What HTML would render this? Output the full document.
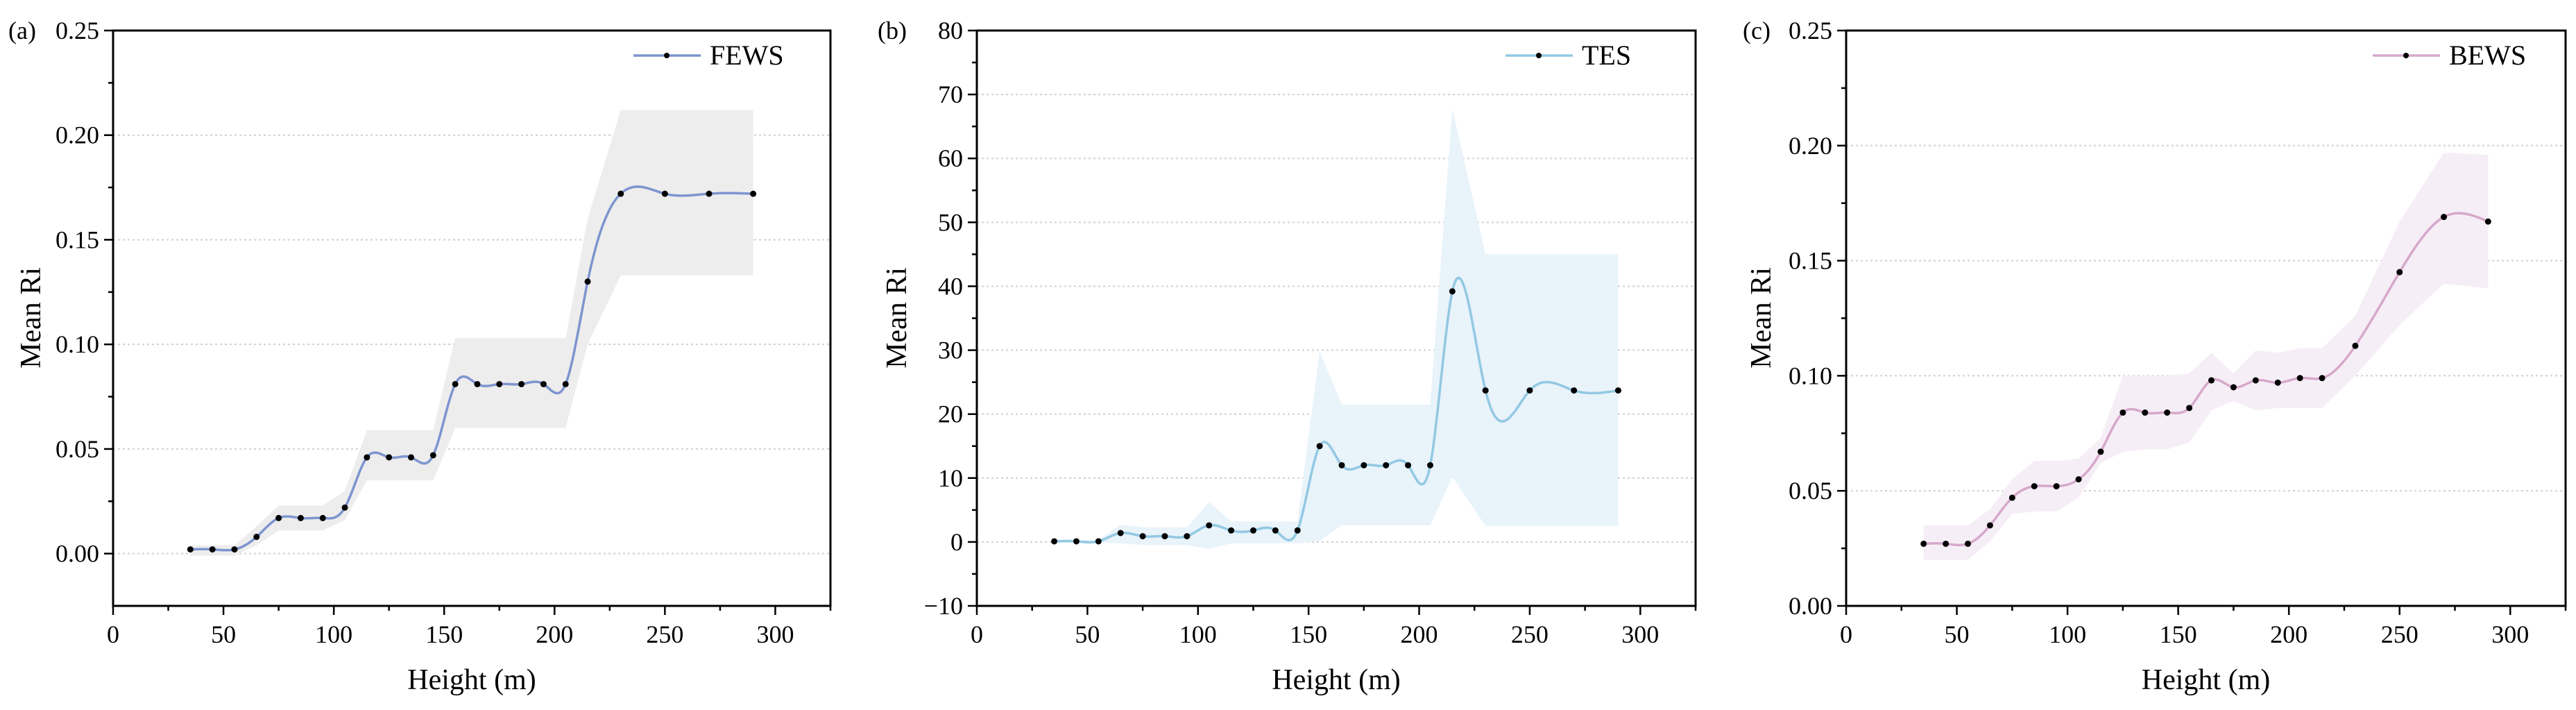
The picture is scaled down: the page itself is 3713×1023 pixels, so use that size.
<!DOCTYPE html>
<html><head><meta charset="utf-8"><style>
html,body{margin:0;padding:0;background:#fff;}
svg{display:block;font-family:"Liberation Serif",serif;}
</style></head><body>
<svg id="fig" width="3713" height="1023" viewBox="0 0 3713 1023" xmlns="http://www.w3.org/2000/svg"></svg>
<script>
const heights = [35,45,55,65,75,85,95,105,115,125,135,145,155,165,175,185,195,205,215,230,250,270,290];
const fewsMean = [0.002,0.002,0.002,0.008,0.017,0.017,0.017,0.022,0.046,0.046,0.046,0.047,0.081,0.081,0.081,0.081,0.081,0.081,0.130,0.172,0.172,0.172,0.172];
const fewsUpper = [0.004,0.004,0.004,0.013,0.023,0.023,0.023,0.030,0.059,0.059,0.059,0.059,0.103,0.103,0.103,0.103,0.103,0.103,0.160,0.212,0.212,0.212,0.212];
const fewsLower = [-0.001,-0.001,-0.001,0.004,0.011,0.011,0.011,0.016,0.035,0.035,0.035,0.035,0.060,0.060,0.060,0.060,0.060,0.060,0.100,0.133,0.133,0.133,0.133];
const tesMean = [0.1,0.1,0.1,1.4,0.9,0.9,0.9,2.6,1.8,1.8,1.8,1.8,15,12,12,12,12,12,39.2,23.7,23.7,23.7,23.7];
const tesUpper = [0.3,0.3,0.3,2.7,2.3,2.3,2.3,6.2,3.2,3.2,3.2,3.2,29.8,21.5,21.5,21.5,21.5,21.5,67.7,45,45,45,45];
const tesLower = [-0.1,-0.1,-0.1,-0.2,-0.5,-0.5,-0.5,-1.1,-0.2,-0.2,-0.2,-0.2,0.2,2.6,2.6,2.6,2.6,2.6,10.2,2.5,2.5,2.5,2.5];
const bewsMean = [0.027,0.027,0.027,0.035,0.047,0.052,0.052,0.055,0.067,0.084,0.084,0.084,0.086,0.098,0.095,0.098,0.097,0.099,0.099,0.113,0.145,0.169,0.167];
const bewsUpper = [0.035,0.035,0.035,0.042,0.055,0.063,0.063,0.064,0.073,0.100,0.100,0.100,0.101,0.110,0.101,0.111,0.110,0.112,0.112,0.126,0.167,0.197,0.196];
const bewsLower = [0.020,0.020,0.020,0.028,0.040,0.041,0.041,0.047,0.062,0.067,0.068,0.068,0.071,0.085,0.089,0.085,0.086,0.086,0.086,0.100,0.122,0.140,0.138];
const xTicks = [0,50,100,150,200,250,300];
const yTicksA = ["0.00","0.05","0.10","0.15","0.20","0.25"];
const yTicksB = ["−10","0","10","20","30","40","50","60","70","80"];
const yTicksC = ["0.00","0.05","0.10","0.15","0.20","0.25"];

const NS="http://www.w3.org/2000/svg";
const svg=document.getElementById('fig');
function mk(tag,attrs,parent){const e=document.createElementNS(NS,tag);for(const k in attrs)e.setAttribute(k,attrs[k]);(parent||svg).appendChild(e);return e;}

function spline(xs,ys){
  const n=xs.length,h=[],a=[],l=[1],mu=[0],z=[0],c=new Array(n).fill(0),b=[],d=[];
  for(let i=0;i<n-1;i++)h.push(xs[i+1]-xs[i]);
  for(let i=1;i<n-1;i++)a[i]=3/h[i]*(ys[i+1]-ys[i])-3/h[i-1]*(ys[i]-ys[i-1]);
  for(let i=1;i<n-1;i++){l[i]=2*(xs[i+1]-xs[i-1])-h[i-1]*mu[i-1];mu[i]=h[i]/l[i];z[i]=(a[i]-h[i-1]*z[i-1])/l[i];}
  l[n-1]=1;z[n-1]=0;
  for(let j=n-2;j>=0;j--){c[j]=z[j]-mu[j]*c[j+1];b[j]=(ys[j+1]-ys[j])/h[j]-h[j]*(c[j+1]+2*c[j])/3;d[j]=(c[j+1]-c[j])/(3*h[j]);}
  return t=>{let i=0;while(i<n-2&&t>xs[i+1])i++;const dx=t-xs[i];return ys[i]+b[i]*dx+c[i]*dx*dx+d[i]*dx*dx*dx;};
}

function panel(o){
  const g=mk('g',{});
  
  
  const L=o.left,R=o.right,T=44,B=873;
  const xs=v=>L+(v-0)/(325)*(R-L);
  const ys=v=>B-(v-o.ymin)/(o.ymax-o.ymin)*(B-T);
  // grid
  o.yt.forEach(s=>{const v=parseFloat(s.replace('−','-'));if(v<=o.ymin||v>=o.ymax)return;
    const gl=mk('line',{x1:L,x2:R,y1:ys(v),y2:ys(v),stroke:'#cfcfcf','stroke-width':2,'stroke-dasharray':'3,4'},g);
    });
  // band
  let pts=heights.map((x,i)=>xs(x)+','+ys(o.up[i]));
  for(let i=heights.length-1;i>=0;i--)pts.push(xs(heights[i])+','+ys(o.lo[i]));
  const band=mk('polygon',{points:pts.join(' '),fill:o.band},g);
  
  // line
  const f=spline(heights,o.mean);let d='';
  for(let t=heights[0];t<=heights[heights.length-1]+0.01;t+=0.5)d+=(d?'L':'M')+xs(t).toFixed(1)+','+ys(f(t)).toFixed(1);
  const ln=mk('path',{d:d,fill:'none',stroke:o.color,'stroke-width':3.5},g);
  
  heights.forEach((x,i)=>{const c=mk('circle',{cx:xs(x),cy:ys(o.mean[i]),r:4.5,fill:'#000'},g);
    });
  // axes frame
  const fr=mk('rect',{x:L,y:T,width:R-L,height:B-T,fill:'none',stroke:'#000','stroke-width':3},g);
  
  // x ticks
  for(let v=0;v<=325;v+=25){const maj=v%50===0;mk('line',{x1:xs(v),x2:xs(v),y1:B,y2:B+(maj?13:7),stroke:'#000','stroke-width':2.5},g);}
  xTicks.forEach(v=>{const t=mk('text',{x:xs(v),y:926,'font-size':36,'text-anchor':'middle'},g);t.textContent=v;
    });
  // y ticks
  const vals=o.yt.map(s=>parseFloat(s.replace('−','-')));const step=vals[1]-vals[0];
  for(let k=0;k<=(vals.length-1)*2;k++){const v=vals[0]+k*step/2;mk('line',{x1:L,x2:L-(k%2===0?13:7),y1:ys(v),y2:ys(v),stroke:'#000','stroke-width':2.5},g);}
  o.yt.forEach((s,i)=>{const t=mk('text',{x:L-20,y:ys(vals[i])+12,'font-size':36,'text-anchor':'end'},g);t.textContent=s;
    });
  // titles
  const xt=mk('text',{x:(L+R)/2,y:993,'font-size':42,'text-anchor':'middle'},g);xt.textContent='Height (m)';
  
  const yt=mk('text',{x:o.ytx,y:458,'font-size':42,'text-anchor':'middle',transform:`rotate(-90 ${o.ytx} 458)`},g);yt.textContent='Mean Ri';
  
  const pl=mk('text',{x:o.plx,y:56,'font-size':36},g);pl.textContent=o.label;
  
  // legend
  const lg=mk('g',{},g);
  mk('line',{x1:o.lx,x2:o.lx+97,y1:80,y2:80,stroke:o.color,'stroke-width':3.5},lg);
  mk('circle',{cx:o.lx+48,cy:80,r:4,fill:'#000'},lg);
  const lt=mk('text',{x:o.lx+110,y:93,'font-size':40},lg);lt.textContent=o.series;
}
panel({name:'panel-a-fews',left:163,right:1197,ymin:-0.025,ymax:0.25,yt:yTicksA,mean:fewsMean,up:fewsUpper,lo:fewsLower,color:'#7d95cf',band:'#ededed',ytx:58,plx:12,label:'(a)',lx:913,series:'FEWS'});
panel({name:'panel-b-tes',left:1408,right:2444,ymin:-10,ymax:80,yt:yTicksB,mean:tesMean,up:tesUpper,lo:tesLower,color:'#93c8e3',band:'#e8f3fa',ytx:1306,plx:1265,label:'(b)',lx:2170,series:'TES'});
panel({name:'panel-c-bews',left:2661,right:3698,ymin:0,ymax:0.25,yt:yTicksC,mean:bewsMean,up:bewsUpper,lo:bewsLower,color:'#d6a8cb',band:'#f6eef6',ytx:2552,plx:2512,label:'(c)',lx:3420,series:'BEWS'});
</script>
</body></html>
